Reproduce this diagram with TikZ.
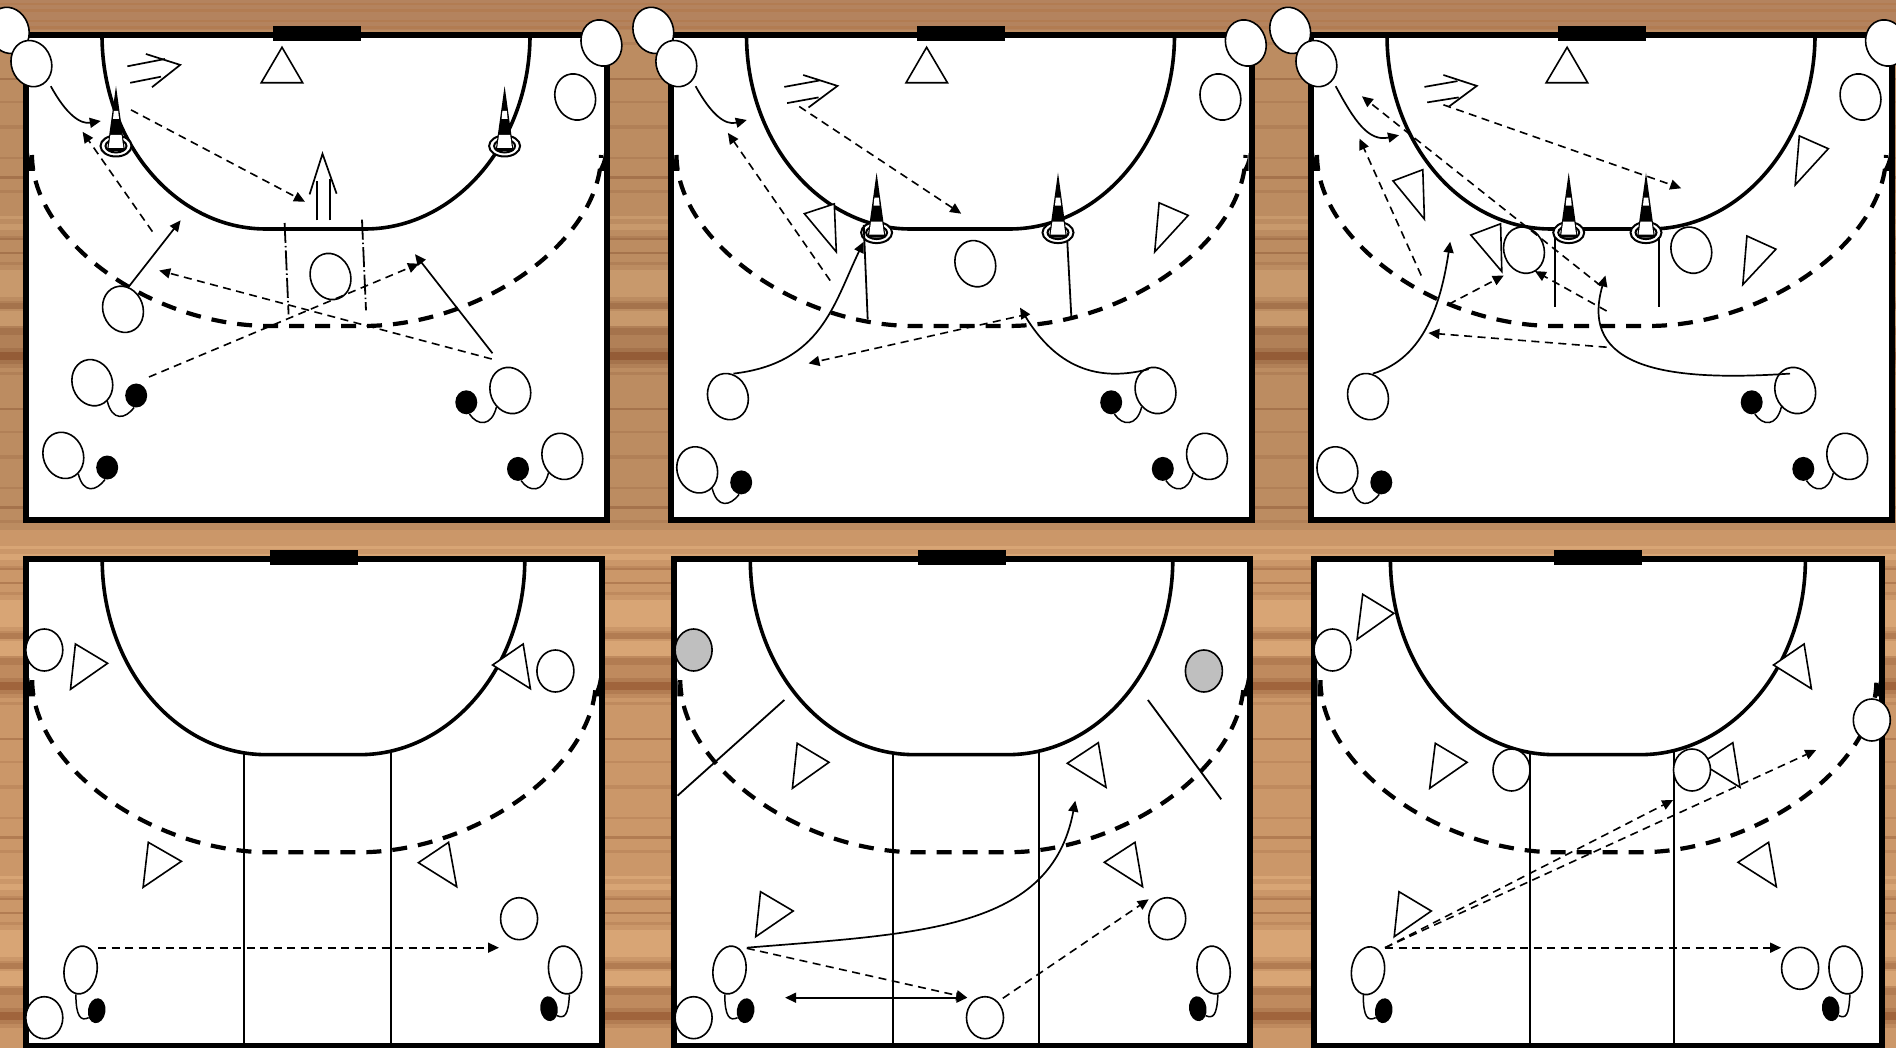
\documentclass[tikz,border=0pt]{standalone}
\usepackage{xcolor}
\definecolor{woodbase}{RGB}{203,151,105}
\definecolor{woodlt}{RGB}{216,165,117}
\definecolor{woodsf}{RGB}{191,138,94}
\definecolor{woodmd}{RGB}{178,124,82}
\definecolor{wooddk}{RGB}{160,100,60}
\definecolor{woodtop}{RGB}{180,131,94}
\definecolor{benchgray}{RGB}{191,191,191}
\usetikzlibrary{arrows.meta,shapes.geometric}
\tikzset{
  cone/.pic={
    \draw[line width=2pt,fill=white] (0,0) ellipse [x radius=15.5pt,y radius=10.5pt];
    \draw[line width=2pt] (0,0) ellipse [x radius=10.5pt,y radius=6.5pt];
    \fill (0,-60) -- (9,5) -- (-9,5) -- cycle;
    \fill[white] (-2.2,-35) -- (2.2,-35) -- (3,-27) -- (-3,-27) -- cycle;
    \fill[white] (-5.6,-11) -- (5.6,-11) -- (7.4,2) -- (-7.4,2) -- cycle;
  }
}
% one court, origin at the top left corner of the frame
\newcommand{\court}[2]{
  \draw[line width=6pt,fill=white] (0,0) rectangle (#1,#2);
  \fill (#1/2-44,-9) rectangle (#1/2+44,6);
  \draw[line width=3.6pt] (76,0) .. controls (76,107) and (149.4,194) .. (240,194)
    -- (#1-242,194) .. controls (#1-151.4,194) and (#1-77,107) .. (#1-77,0);
  \draw[line width=4.2pt,dash pattern=on 15pt off 11pt] (6,120) .. controls (6,205) and (125,291) .. (244,291)
    -- (#1-244,291) .. controls (#1-125,291) and (#1-6,205) .. (#1-6,120);
  \fill (3,118) .. controls (4,126) and (6,130) .. (9,136) -- (3,136) -- cycle;
  \fill (#1-3,118) .. controls (#1-4,126) and (#1-6,130) .. (#1-9,136) -- (#1-3,136) -- cycle;
}
\newcommand{\tetherL}[2]{\draw[tether] (#1.-71) .. controls +(5,20) and +(-9,12) .. (#2.-100);}
\newcommand{\tetherR}[2]{\draw[tether] (#1.-150) .. controls +(-5,20) and +(8,12) .. (#2.-75);}
\newcommand{\tallL}[2]{\draw[tether] (#1.-93) .. controls +(0,22) and +(-8,4) .. (#2.-131);}
\newcommand{\tallR}[2]{\draw[tether] (#1.-88) .. controls +(-1,22) and +(7,3) .. (#2.-49);}
\begin{document}
\begin{tikzpicture}[
    x=1pt, y=-1pt,
    roundplayer/.style={ellipse, draw, fill=white, line width=1.6pt, inner sep=0pt,
                   minimum width=37pt, minimum height=42pt},
    player/.style={roundplayer, minimum width=40pt, minimum height=47pt, rotate=20},
    tallplayer/.style={roundplayer, minimum width=33pt, minimum height=48pt},
    ball/.style={ellipse, fill=black, inner sep=0pt, minimum width=22pt, minimum height=24pt},
    tallball/.style={ball, minimum width=17.5pt, minimum height=25pt},
    tether/.style={line width=1.5pt},
    blocker/.style={draw, fill=white, line width=1.6pt},
    chevron/.style={line width=1.7pt},
    thinline/.style={line width=1.8pt},
    pass/.style={->, line width=1.6pt, dash pattern=on 8pt off 5.5pt},
    run/.style={->, line width=1.7pt},
    >={Triangle[length=11pt,width=10pt]}
  ]
  \useasboundingbox (0,0) rectangle (1896,1048);
  \clip (0,0) rectangle (1896,1048);

  % Wood floor
  \fill[woodbase] (0,0) rectangle (1896,1048);
  \foreach \tile in {0,330,660}
    \foreach \sy/\sh/\sc in {42/3/sf,78/2/md,101/2/sf,125/4/sf,157/2/sf,176/3/md,190/3/sf,216/3/lt,224/6/lt,
                          236/2/sf,238/2/md,252/2/md,262/3/sf,270/4/lt,274/13/lt,287/10/lt,301/2/sf,303/6/md,311/15/lt,
                          326/2/sf,328/7/md,335/13/sf,348/4/md,352/8/dk,360/4/md,364/4/sf}
      \fill[wood\sc] (0,\sy+\tile) rectangle ++(1896,\sh);
  \fill[black,opacity=.07] (0,0) rectangle (1896,530);
  \fill[woodtop] (0,0) rectangle (1896,30);
  \foreach \sy/\sh in {3/2,9/3,20/2,26/3}
    \fill[woodmd] (0,\sy) rectangle ++(1896,\sh);

  % Courts
  \foreach \ox in {26,670.5,1311} {
    \begin{scope}[shift={(\ox,35)}] \court{581}{484.5} \end{scope}
  }
  \foreach \ox/\w in {26.2/575.6,674.3/575.5,1314.4/568} {
    \begin{scope}[shift={(\ox,559.3)},yscale=1.007] \court{\w}{483.6} \end{scope}
  }

  % Panel A: markers and lines
  \pic at (116,146) {cone};
  \pic at (504.6,146) {cone};
  \draw[blocker] (282,47.3) -- (261.2,82.8) -- (302.7,82.8) -- cycle;
  \draw[chevron] (145.9,54) -- (180.2,64.9) -- (152,87.2);
  \draw[chevron] (127.4,66.3) -- (165,59) (130.2,82.8) -- (161,76.7);
  \draw[chevron] (309.6,194.4) -- (322.5,153.8) -- (336.6,193.7);
  \draw[chevron] (316.8,220.4) -- (316.8,180.9) (330.1,220.4) -- (330.1,179.2);
  \draw[thinline,dash pattern=on 20pt off 3pt on 1.5pt off 3pt] (284.6,223) -- (288.6,314.4);
  \draw[thinline,dash pattern=on 20pt off 3pt on 1.5pt off 3pt] (362,219.7) -- (366,310.4);

  % Panel A: players
  \node[player] (a1) at (8.8,30.4) {};
  \node[player] (a2) at (31.4,63.6) {};
  \node[player] (a3) at (601.4,43) {};
  \node[player] (a4) at (575.2,97) {};
  \node[player] (a5) at (123,309.3) {};
  \node[player] (a6) at (330.5,276.5) {};
  \node[player] (a7) at (92.3,382.7) {};
  \node[ball] (a7b) at (136.2,395.5) {};
  \node[player] (a8) at (63.3,455.4) {};
  \node[ball] (a8b) at (107.2,467.5) {};
  \node[player] (a9) at (510.3,390.5) {};
  \node[ball] (a9b) at (466.3,402.3) {};
  \node[player] (a10) at (562.3,456.4) {};
  \node[ball] (a10b) at (518,468.9) {};
  \tetherL{a7}{a7b} \tetherL{a8}{a8b}
  \tetherR{a9}{a9b} \tetherR{a10}{a10b}

  % Panel A: arrows
  \coordinate (ar1s) at (50.8,86.2); \coordinate (ar1e) at (100.8,121);
  \coordinate (ap1s) at (152.4,231.6); \coordinate (ap1e) at (82.6,131.8);
  \coordinate (ap2s) at (131,109.9); \coordinate (ap2e) at (305,201.8);
  \coordinate (ar2s) at (128.2,287.4); \coordinate (ar2e) at (180.6,220.4);
  \coordinate (ap3s) at (491.7,359); \coordinate (ap3e) at (159.2,270.5);
  \coordinate (ap4s) at (149,377); \coordinate (ap4e) at (419,263.7);
  \coordinate (ar3s) at (492.5,353.3); \coordinate (ar3e) at (415,254.2);
  \draw[run] (ar1s) .. controls (66.5,115) and (80.6,124.4) .. (ar1e);
  \draw[pass] (ap1s) -- (ap1e);
  \draw[pass] (ap2s) -- (ap2e);
  \draw[run] (ar2s) -- (ar2e);
  \draw[pass] (ap3s) -- (ap3e);
  \draw[pass] (ap4s) -- (ap4e);
  \draw[run] (ar3s) -- (ar3e);

  % Panel B: markers and lines
  \pic at (876.6,232.6) {cone};
  \pic at (1058,232.6) {cone};
  \draw[blocker] (926.6,47.3) -- (906,82.8) -- (947.5,82.8) -- cycle;
  \draw[blocker] (804.4,213.7) -- (834.3,203.9) -- (836.3,251.9) -- cycle;
  \draw[blocker] (1159.1,202.8) -- (1188.2,215.4) -- (1154.7,251.9) -- cycle;
  \draw[chevron] (803.2,75) -- (837.5,85.9) -- (808.5,107.5);
  \draw[chevron] (784.3,86.9) -- (819.4,80.5) (787.1,103.1) -- (818.6,97.4);
  \draw[thinline] (863.7,224.8) -- (867.7,319.5);
  \draw[thinline] (1067.3,241.7) -- (1071.3,316);

  % Panel B: players
  \node[player] (b1) at (653.3,30.4) {};
  \node[player] (b2) at (676.3,63.6) {};
  \node[player] (b3) at (1245.8,43) {};
  \node[player] (b4) at (1220.4,97) {};
  \node[player] (b5) at (975.3,263.7) {};
  \node[player] (b6) at (727.9,396.6) {};
  \node[player] (b7) at (697.2,469.9) {};
  \node[ball] (b7b) at (741.2,482.4) {};
  \node[player] (b8) at (1155.5,390.5) {};
  \node[ball] (b8b) at (1111.2,402.3) {};
  \node[player] (b9) at (1207,456.4) {};
  \node[ball] (b9b) at (1162.8,468.9) {};
  \tetherL{b7}{b7b}
  \tetherR{b8}{b8b} \tetherR{b9}{b9b}

  % Panel B: arrows
  \coordinate (br1s) at (695.6,86.2); \coordinate (br1e) at (746.8,120);
  \coordinate (bp1s) at (830.2,280.6); \coordinate (bp1e) at (727.9,132.9);
  \coordinate (bp2s) at (799.2,106.5); \coordinate (bp2e) at (961.2,213.7);
  \coordinate (br2s) at (733.5,373.6); \coordinate (br2e) at (863.7,241.7);
  \coordinate (bp3s) at (1027,314.4); \coordinate (bp3e) at (808.5,363.4);
  \coordinate (br3s) at (1148.7,369.2); \coordinate (br3e) at (1020,307.6);
  \draw[run] (br1s) .. controls (710.5,113.3) and (724.6,125.8) .. (br1e);
  \draw[pass] (bp1s) -- (bp1e);
  \draw[pass] (bp2s) -- (bp2e);
  \draw[run] (br2s) .. controls (821.4,363.4) and (833.5,304.3) .. (br2e);
  \draw[pass] (bp3s) -- (bp3e);
  \draw[run] (br3s) .. controls (1111.6,378.6) and (1063.2,378.6) .. (br3e);

  % Panel C: markers and lines
  \pic at (1568.7,232.6) {cone};
  \pic at (1646,232.6) {cone};
  \draw[blocker] (1567.1,47.3) -- (1546.1,82.8) -- (1587.7,82.8) -- cycle;
  \draw[blocker] (1393,180.9) -- (1422.8,169.7) -- (1424.4,219.1) -- cycle;
  \draw[blocker] (1799.3,135.9) -- (1828.3,148.7) -- (1795.2,184.9) -- cycle;
  \draw[blocker] (1470.8,235) -- (1500.6,223.8) -- (1501.8,271.5) -- cycle;
  \draw[blocker] (1746.9,236) -- (1775.9,249.2) -- (1742.8,284.6) -- cycle;
  \draw[chevron] (1443.4,75) -- (1476.8,85.9) -- (1448.6,106.8);
  \draw[chevron] (1424.4,86.9) -- (1457.5,81.1) (1427.2,102.4) -- (1458.7,97.4);
  \draw[thinline] (1555,236.6) -- (1555,307);
  \draw[thinline] (1659,236.6) -- (1659,307);

  % Panel C: players
  \node[player] (c1) at (1290.2,30.4) {};
  \node[player] (c2) at (1316.4,63.6) {};
  \node[player] (c3) at (1886,43) {};
  \node[player] (c4) at (1860.5,97) {};
  \node[player] (c5) at (1524,250.2) {};
  \node[player] (c6) at (1691.3,250.2) {};
  \node[player] (c7) at (1368,396.6) {};
  \node[player] (c8) at (1337.4,469.9) {};
  \node[ball] (c8b) at (1381.3,482.4) {};
  \node[player] (c9) at (1795.2,390.5) {};
  \node[ball] (c9b) at (1751.7,402.3) {};
  \node[player] (c10) at (1847.2,456.4) {};
  \node[ball] (c10b) at (1803.3,468.9) {};
  \tetherL{c8}{c8b}
  \tetherR{c9}{c9b} \tetherR{c10}{c10b}

  % Panel C: arrows
  \coordinate (cr1s) at (1335.7,86.2); \coordinate (cr1e) at (1399,135.2);
  \coordinate (cp1s) at (1443.4,104.8); \coordinate (cp1e) at (1681.2,188.3);
  \coordinate (cp2s) at (1600.6,285.7); \coordinate (cp2e) at (1361.9,96.3);
  \coordinate (cp3s) at (1421.2,275.5); \coordinate (cp3e) at (1359.5,138.6);
  \coordinate (cp4s) at (1606.6,311); \coordinate (cp4e) at (1534.9,271.1);
  \coordinate (cp5s) at (1448.6,304.3); \coordinate (cp5e) at (1503.8,275.5);
  \coordinate (cp6s) at (1606.6,347.2); \coordinate (cp6e) at (1428.4,333);
  \coordinate (cr2s) at (1372.8,373.6); \coordinate (cr2e) at (1450.2,241.7);
  \coordinate (cr3s) at (1790,373.6); \coordinate (cr3e) at (1605.4,275.5);
  \draw[run] (cr1s) .. controls (1354.7,121.7) and (1368.8,142) .. (cr1e);
  \draw[pass] (cp1s) -- (cp1e);
  \draw[pass] (cp2s) -- (cp2e);
  \draw[pass] (cp3s) -- (cp3e);
  \draw[pass] (cp4s) -- (cp4e);
  \draw[pass] (cp5s) -- (cp5e);
  \draw[pass] (cp6s) -- (cp6e);
  \draw[run] (cr2s) .. controls (1425.2,358.3) and (1441.3,300.9) .. (cr2e);
  \draw[run] (cr3s) .. controls (1667,382) and (1578.4,368.5) .. (cr3e);

  % Panel D
  \draw[thinline] (244.3,752) -- (244.3,1048);
  \draw[thinline] (390.6,752) -- (390.6,1048);
  \draw[blocker] (75.4,644) -- (107.6,663.3) -- (70.5,689.3) -- cycle;
  \draw[blocker] (523.2,644) -- (492.6,665) -- (530.4,688.7) -- cycle;
  \draw[blocker] (148.3,842.3) -- (181.4,861.3) -- (143.1,887.3) -- cycle;
  \draw[blocker] (448.6,842.3) -- (418.4,862.7) -- (456.7,886.7) -- cycle;
  \node[roundplayer] (d1) at (44.3,650) {};
  \node[roundplayer] (d2) at (555.4,671) {};
  \node[roundplayer] (d3) at (519.1,918.7) {};
  \node[roundplayer] (d4) at (44.3,1017.7) {};
  \node[tallplayer,rotate=-8] (d5) at (80.6,970) {};
  \node[tallball,rotate=-8] (d5b) at (96.7,1010.7) {};
  \node[tallplayer,rotate=8] (d6) at (565.1,970) {};
  \node[tallball,rotate=8] (d6b) at (549,1008.7) {};
  \tallL{d5}{d5b} \tallR{d6}{d6b}
  \coordinate (dp1s) at (98,947.7); \coordinate (dp1e) at (499,947.7);
  \draw[pass] (dp1s) -- (dp1e);

  % Panel E
  \draw[thinline] (892.7,752) -- (892.7,1048);
  \draw[thinline] (1039,752) -- (1039,1048);
  \draw[thinline] (784.3,700) -- (677.5,795.7);
  \draw[thinline] (1147.9,700) -- (1221.2,799.3);
  \draw[blocker] (797.2,743.3) -- (829,762.3) -- (792.4,788.3) -- cycle;
  \draw[blocker] (1098.3,742.7) -- (1067.3,763.3) -- (1106,787.3) -- cycle;
  \draw[blocker] (1135,842.3) -- (1104.3,862.3) -- (1142.6,886.7) -- cycle;
  \draw[blocker] (760.5,891.7) -- (793.2,911) -- (755.7,936.7) -- cycle;
  \node[roundplayer,fill=benchgray] (e1) at (693.6,650) {};
  \node[roundplayer,fill=benchgray] (e2) at (1203.9,671) {};
  \node[roundplayer] (e3) at (693.6,1017.7) {};
  \node[roundplayer] (e4) at (985,1017.7) {};
  \node[roundplayer] (e5) at (1167.2,918.7) {};
  \node[tallplayer,rotate=-8] (e6) at (729.5,970) {};
  \node[tallball,rotate=-8] (e6b) at (745.6,1010.7) {};
  \node[tallplayer,rotate=8] (e7) at (1213.6,970) {};
  \node[tallball,rotate=8] (e7b) at (1197.8,1008.7) {};
  \tallL{e6}{e6b} \tallR{e7}{e7b}
  \coordinate (er1s) at (746.8,947.7); \coordinate (er1e) at (1075.3,800.7);
  \coordinate (ep1s) at (746.8,948.3); \coordinate (ep1e) at (967.3,997.7);
  \coordinate (er2s) at (785.1,997.7); \coordinate (er2e) at (967.3,997.7);
  \coordinate (ep2s) at (1002.8,998.3); \coordinate (ep2e) at (1148.7,899.3);
  \draw[run] (er1s) .. controls (922.1,933.3) and (1051.1,930) .. (er1e);
  \draw[pass] (ep1s) -- (ep1e);
  \draw[run,<->] (er2s) -- (er2e);
  \draw[pass] (ep2s) -- (ep2e);

  % Panel F
  \draw[thinline] (1529.6,752) -- (1529.6,1048);
  \draw[thinline] (1674.3,752) -- (1674.3,1048);
  \draw[blocker] (1362.7,594.3) -- (1393.8,613.3) -- (1357.1,639.3) -- cycle;
  \draw[blocker] (1804.1,644) -- (1773.5,665) -- (1811.4,688.7) -- cycle;
  \draw[blocker] (1435.3,743.3) -- (1467.1,762.3) -- (1429.7,788.3) -- cycle;
  \draw[blocker] (1732.8,742.7) -- (1701.3,763.3) -- (1740,787.3) -- cycle;
  \draw[blocker] (1768.6,842.3) -- (1738,862.3) -- (1776.3,886.7) -- cycle;
  \draw[blocker] (1399,891.7) -- (1431.3,911) -- (1394.2,936.7) -- cycle;
  \node[roundplayer] (f1) at (1332.5,650) {};
  \node[roundplayer] (f2) at (1511.5,770) {};
  \node[roundplayer] (f3) at (1692,770) {};
  \node[roundplayer] (f4) at (1871.8,720) {};
  \node[roundplayer] (f5) at (1800.1,968.3) {};
  \node[tallplayer,rotate=-8] (f6) at (1368,970.7) {};
  \node[tallball,rotate=-8] (f6b) at (1383.7,1010.7) {};
  \node[tallplayer,rotate=8] (f7) at (1845.6,970) {};
  \node[tallball,rotate=8] (f7b) at (1830.7,1008.7) {};
  \tallL{f6}{f6b} \tallR{f7}{f7b}
  \coordinate (fp0) at (1385,947.7);
  \coordinate (fp1e) at (1781.1,947.7);
  \coordinate (fp2e) at (1673.1,800);
  \coordinate (fp3e) at (1816.2,750);
  \draw[pass] (fp0) -- (fp1e);
  \draw[pass] (fp0) -- (fp2e);
  \draw[pass] (fp0) -- (fp3e);
\end{tikzpicture}
\end{document}
